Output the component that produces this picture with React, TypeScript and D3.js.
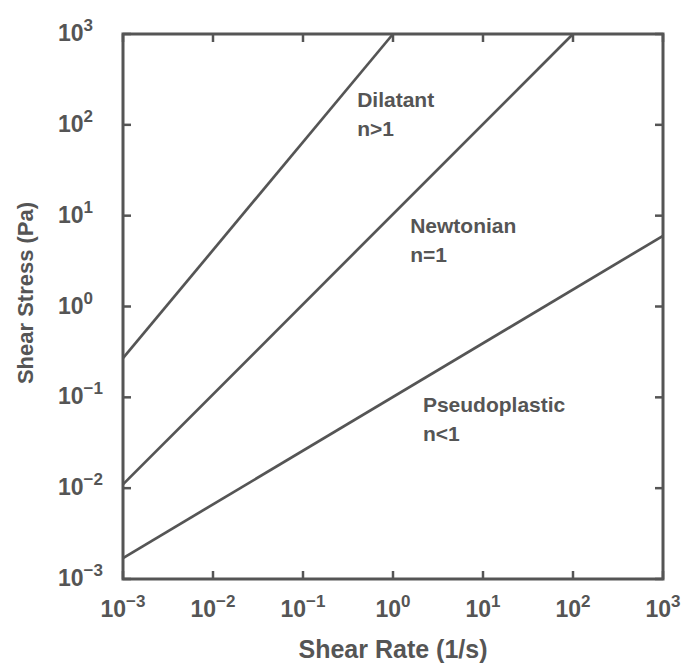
import React from 'react';
import * as d3 from 'd3';

// decade exponents used for ticks on both axes
const xExponents = [-3, -2, -1, 0, 1, 2, 3];
const yExponents = [-3, -2, -1, 0, 1, 2, 3];

// power-law lines: [shear rate, shear stress]
const dilatant: [number, number][] = [[1e-3, 0.27], [1.0, 1000]];
const newtonian: [number, number][] = [[1e-3, 0.011], [100, 1000]];
const pseudoplastic: [number, number][] = [[1e-3, 0.0017], [1e3, 6.0]];

const curves = [
  { name: 'Dilatant', note: 'n>1', points: dilatant, label: [0.4, 157] },
  { name: 'Newtonian', note: 'n=1', points: newtonian, label: [1.55, 6.4] },
  { name: 'Pseudoplastic', note: 'n<1', points: pseudoplastic, label: [2.15, 0.069] },
];

const ink = '#555';
const font = '"Liberation Sans", Arial, sans-serif';

export default function App() {
  const W = 683;
  const H = 666;
  const margin = { top: 34, right: 20, bottom: 87, left: 123 };

  const x = d3.scaleLog().domain([1e-3, 1e3]).range([margin.left, W - margin.right]);
  const y = d3.scaleLog().domain([1e-3, 1e3]).range([H - margin.bottom, margin.top]);

  const line = d3
    .line<[number, number]>()
    .x(d => x(d[0]))
    .y(d => y(d[1]));

  const [x0, x1] = x.range();
  const [y0, y1] = y.range();
  const tickLen = 8;

  const sup = (e: number) => (e < 0 ? `\u2212${-e}` : `${e}`);

  return (
    <svg
      width={W}
      height={H}
      style={{ position: 'absolute', left: 0, top: 0, background: '#fff' }}
      fontFamily={font}
      fontWeight="bold"
      fill={ink}
    >
      {/* frame */}
      <rect x={x0} y={y1} width={x1 - x0} height={y0 - y1} fill="none" stroke={ink} strokeWidth={3} />

      {/* x ticks (bottom and top, inward) */}
      {xExponents.map(e => {
        const px = x(Math.pow(10, e));
        return (
          <g key={`x${e}`}>
            <line x1={px} x2={px} y1={y0} y2={y0 - tickLen} stroke={ink} strokeWidth={2.5} />
            <line x1={px} x2={px} y1={y1} y2={y1 + tickLen} stroke={ink} strokeWidth={2.5} />
            <text x={px} y={y0 + 38} textAnchor="middle" fontSize={23}>
              10<tspan dy={-10} fontSize={17}>{sup(e)}</tspan>
            </text>
          </g>
        );
      })}

      {/* y ticks (left and right, inward) */}
      {yExponents.map(e => {
        const py = y(Math.pow(10, e));
        return (
          <g key={`y${e}`}>
            <line x1={x0} x2={x0 + tickLen} y1={py} y2={py} stroke={ink} strokeWidth={2.5} />
            <line x1={x1} x2={x1 - tickLen} y1={py} y2={py} stroke={ink} strokeWidth={2.5} />
            <text x={58} y={py + 7} textAnchor="start" fontSize={23}>
              10<tspan dy={-10} fontSize={17}>{sup(e)}</tspan>
            </text>
          </g>
        );
      })}

      {/* curves */}
      {curves.map(c => (
        <path key={c.name} d={line(c.points) ?? ''} fill="none" stroke={ink} strokeWidth={2.7} />
      ))}

      {/* curve labels */}
      {curves.map(c => (
        <text key={`l${c.name}`} x={x(c.label[0])} y={y(c.label[1])} fontSize={21}>
          <tspan>{c.name}</tspan>
          <tspan x={x(c.label[0])} dy={29}>{c.note}</tspan>
        </text>
      ))}

      {/* axis titles */}
      <text x={(x0 + x1) / 2} y={658} textAnchor="middle" fontSize={25}>
        Shear Rate (1/s)
      </text>
      <text transform={`translate(33,293) rotate(-90)`} textAnchor="middle" fontSize={22}>
        Shear Stress (Pa)
      </text>
    </svg>
  );
}
